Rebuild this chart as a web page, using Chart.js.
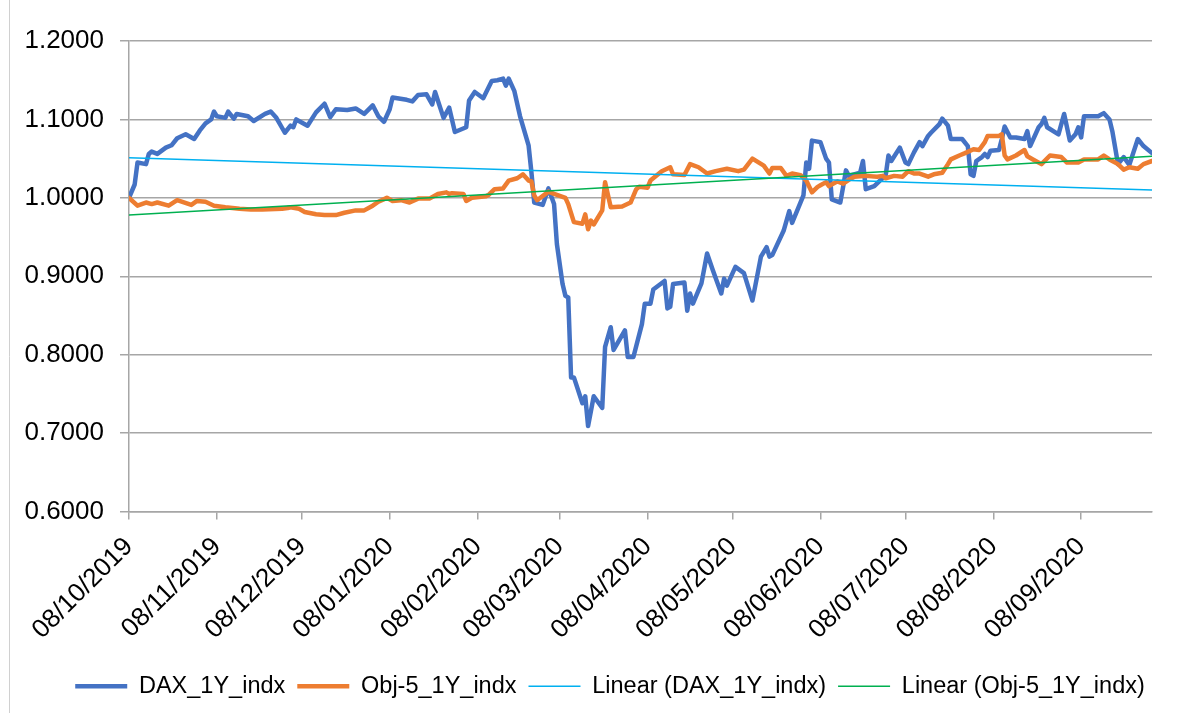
<!DOCTYPE html>
<html>
<head>
<meta charset="utf-8">
<title>DAX_1Y_indx vs Obj-5_1Y_indx</title>
<script src="https://cdn.jsdelivr.net/npm/chart.js@4.4.1/dist/chart.umd.min.js"></script>
<style>
  html, body { margin: 0; padding: 0; background: #fff; }
  #wrap { width: 1189px; height: 713px; }
</style>
</head>
<body>
<div id="wrap"><canvas id="chart" width="1189" height="713"></canvas></div>
<script>
// x values are days counted from the first date of the series
const startDate = '08/10/2019';
const tickLabels = ['08/10/2019', '08/11/2019', '08/12/2019', '08/01/2020', '08/02/2020', '08/03/2020',
  '08/04/2020', '08/05/2020', '08/06/2020', '08/07/2020', '08/08/2020', '08/09/2020'];

const daxDays = [0, 2, 3, 6, 7, 8, 10, 13, 15, 17, 20, 23, 25, 27, 29, 30, 31, 34, 35, 37, 38, 42, 44, 48, 50, 52, 55, 57, 58, 59,
  63, 66, 69, 71, 73, 77, 80, 83, 86, 88, 90, 92, 93, 98, 100, 102, 105, 107, 108, 111, 113, 115, 119, 120, 122, 125, 128, 130, 132, 133,
  134, 136, 138, 141, 142, 143, 146, 148, 150, 151, 153, 154, 155, 156, 157, 160, 161, 162, 164, 167, 168, 170, 171, 175, 176, 178, 181, 182, 184, 185,
  189, 190, 191, 192, 196, 197, 198, 199, 202, 204, 206, 209, 210, 211, 214, 217, 220, 223, 225, 226, 227, 231, 233, 234, 238, 239, 240, 241, 244, 246,
  247, 248, 251, 252, 253, 254, 258, 259, 260, 263, 265, 267, 268, 269, 272, 274, 275, 277, 279, 280, 282, 283, 286, 287, 289, 290, 294, 296, 297, 298,
  299, 301, 302, 303, 304, 307, 308, 309, 311, 313, 316, 317, 318, 321, 322, 323, 324, 328, 330, 332, 334, 335, 336, 337, 342, 344, 346, 347, 349, 351,
  353, 356, 358, 361];
const daxValues = [1.000, 1.017, 1.045, 1.043, 1.056, 1.059, 1.056, 1.064, 1.067, 1.076, 1.081, 1.075, 1.086, 1.095, 1.100, 1.110, 1.104, 1.102, 1.110, 1.101, 1.107, 1.104, 1.098, 1.107, 1.110, 1.102, 1.083, 1.092, 1.090, 1.100,
  1.092, 1.109, 1.120, 1.103, 1.113, 1.112, 1.114, 1.107, 1.118, 1.104, 1.097, 1.113, 1.128, 1.125, 1.123, 1.131, 1.132, 1.119, 1.135, 1.102, 1.115, 1.084, 1.090, 1.124, 1.135, 1.127, 1.149, 1.150, 1.152, 1.143,
  1.152, 1.136, 1.104, 1.067, 1.033, 0.994, 0.991, 1.012, 0.992, 0.941, 0.890, 0.875, 0.873, 0.771, 0.771, 0.738, 0.747, 0.709, 0.747, 0.732, 0.810, 0.835, 0.806, 0.831, 0.797, 0.797, 0.839, 0.865, 0.865, 0.883,
  0.894, 0.859, 0.861, 0.890, 0.892, 0.856, 0.878, 0.865, 0.891, 0.929, 0.908, 0.878, 0.897, 0.888, 0.912, 0.904, 0.869, 0.925, 0.937, 0.925, 0.927, 0.958, 0.983, 0.968, 1.003, 1.045, 1.037, 1.073, 1.071, 1.050,
  1.045, 0.998, 0.994, 1.014, 1.035, 1.028, 1.032, 1.047, 1.011, 1.015, 1.022, 1.028, 1.054, 1.047, 1.064, 1.045, 1.043, 1.058, 1.071, 1.066, 1.079, 1.083, 1.094, 1.101, 1.092, 1.075, 1.075, 1.066, 1.030, 1.028,
  1.047, 1.052, 1.056, 1.052, 1.060, 1.061, 1.075, 1.091, 1.077, 1.077, 1.075, 1.085, 1.066, 1.090, 1.094, 1.102, 1.090, 1.081, 1.107, 1.073, 1.081, 1.090, 1.077, 1.104, 1.104, 1.108, 1.100, 1.085, 1.043, 1.052,
  1.042, 1.075, 1.066, 1.057];

const objDays = [0, 3, 6, 8, 10, 14, 17, 22, 24, 27, 30, 34, 39, 43, 47, 54, 56, 57, 60, 62, 66, 69, 73, 76, 80, 83, 86, 88, 91, 93,
  96, 99, 102, 106, 109, 112, 113, 114, 118, 119, 121, 126, 127, 129, 132, 134, 137, 139, 141, 142, 143, 144, 147, 148, 150, 154, 155, 157, 160, 161,
  162, 163, 164, 167, 168, 170, 174, 177, 179, 180, 183, 184, 188, 191, 192, 196, 198, 201, 204, 207, 211, 215, 217, 220, 224, 226, 227, 230, 232, 234,
  237, 239, 241, 243, 244, 246, 247, 250, 252, 254, 256, 260, 264, 266, 267, 270, 273, 275, 277, 279, 282, 284, 287, 289, 290, 293, 295, 298, 300, 302,
  303, 307, 308, 309, 310, 313, 316, 317, 319, 322, 325, 329, 331, 335, 337, 342, 344, 346, 349, 351, 353, 356, 358, 361];
const objValues = [1.000, 0.990, 0.994, 0.992, 0.994, 0.990, 0.997, 0.991, 0.996, 0.995, 0.990, 0.988, 0.986, 0.985, 0.985, 0.986, 0.987, 0.988, 0.986, 0.982, 0.979, 0.978, 0.978, 0.981, 0.984, 0.984, 0.990, 0.995, 1.000, 0.996,
  0.997, 0.994, 0.999, 0.999, 1.005, 1.007, 1.005, 1.006, 1.005, 0.996, 1.000, 1.002, 1.004, 1.011, 1.012, 1.022, 1.025, 1.030, 1.022, 1.021, 1.003, 0.997, 1.005, 1.008, 1.005, 1.000, 0.992, 0.969, 0.967, 0.979,
  0.960, 0.971, 0.966, 0.984, 1.020, 0.988, 0.989, 0.994, 1.011, 1.014, 1.013, 1.022, 1.034, 1.039, 1.030, 1.029, 1.043, 1.039, 1.031, 1.034, 1.037, 1.034, 1.036, 1.050, 1.041, 1.031, 1.038, 1.038, 1.028, 1.031,
  1.029, 1.022, 1.007, 1.014, 1.016, 1.020, 1.015, 1.021, 1.018, 1.023, 1.027, 1.028, 1.027, 1.028, 1.025, 1.028, 1.027, 1.034, 1.031, 1.031, 1.027, 1.030, 1.032, 1.043, 1.049, 1.054, 1.057, 1.062, 1.061, 1.071,
  1.079, 1.079, 1.081, 1.054, 1.049, 1.054, 1.061, 1.053, 1.049, 1.043, 1.054, 1.052, 1.045, 1.045, 1.049, 1.049, 1.054, 1.049, 1.043, 1.036, 1.039, 1.037, 1.043, 1.047];

// linear trend lines, first and last day
const trendDays = [0, 361];
const daxTrend = [1.051, 1.010];
const objTrend = [0.978, 1.053];

const fontFamily = "'Liberation Sans', Arial, sans-serif";
const gridColor = '#a6a6a6';

function dayOffset(label) {
  const [d, m, y] = label.split('/').map(Number);
  const [d0, m0, y0] = startDate.split('/').map(Number);
  return Math.round((Date.UTC(y, m - 1, d) - Date.UTC(y0, m0 - 1, d0)) / 86400000);
}
const tickDays = tickLabels.map(dayOffset);

function points(xs, ys) {
  return xs.map((x, i) => ({ x: x, y: ys[i] }));
}

// outer chart border on the left edge, and legend nudged right like in Excel
const frame = {
  id: 'frame',
  afterLayout(chart) {
    chart.legend.left += 34;
    chart.legend.right += 34;
  },
  afterDraw(chart) {
    const ctx = chart.ctx;
    ctx.save();
    ctx.strokeStyle = '#d0d0d0';
    ctx.lineWidth = 1;
    ctx.beginPath();
    ctx.moveTo(9.5, 0);
    ctx.lineTo(9.5, chart.height);
    ctx.stroke();
    ctx.restore();
  }
};

new Chart(document.getElementById('chart'), {
  type: 'line',
  data: {
    datasets: [
      { label: 'DAX_1Y_indx', data: points(daxDays, daxValues), borderColor: '#4472C4', borderWidth: 4.5, order: 3 },
      { label: 'Obj-5_1Y_indx', data: points(objDays, objValues), borderColor: '#ED7D31', borderWidth: 4.5, order: 2 },
      { label: 'Linear (DAX_1Y_indx)', data: points(trendDays, daxTrend), borderColor: '#00B0F0', borderWidth: 1.5, order: 1 },
      { label: 'Linear (Obj-5_1Y_indx)', data: points(trendDays, objTrend), borderColor: '#00B050', borderWidth: 1.5, order: 0 }
    ]
  },
  options: {
    responsive: false,
    animation: false,
    layout: { padding: { top: 41, right: 37, bottom: 5, left: 0 } },
    elements: {
      point: { radius: 0, pointStyle: 'line' },
      line: { tension: 0, borderJoinStyle: 'round', borderCapStyle: 'round', fill: false }
    },
    scales: {
      x: {
        type: 'linear',
        min: 0,
        max: daxDays[daxDays.length - 1],
        afterBuildTicks: (scale) => { scale.ticks = tickDays.map((v) => ({ value: v })); },
        afterFit: (scale) => { scale.height = 151; },
        ticks: {
          autoSkip: false,
          minRotation: 45,
          maxRotation: 45,
          padding: 12,
          color: '#000',
          font: { family: fontFamily, size: 26 },
          callback: (value, index) => tickLabels[index]
        },
        grid: { drawOnChartArea: false, drawTicks: true, tickLength: 8, color: gridColor, lineWidth: 1.5 },
        border: { display: true, color: gridColor, width: 1.5 }
      },
      y: {
        min: 0.6,
        max: 1.2,
        afterFit: (scale) => { scale.width = 129; },
        ticks: {
          stepSize: 0.1,
          padding: 16,
          color: '#000',
          font: { family: fontFamily, size: 26 },
          callback: (value) => value.toFixed(4)
        },
        grid: { color: gridColor, lineWidth: 1.5, tickLength: 9, drawTicks: true },
        border: { display: true, color: gridColor, width: 1.5 }
      }
    },
    plugins: {
      tooltip: { enabled: false },
      legend: {
        position: 'bottom',
        labels: {
          usePointStyle: true,
          pointStyleWidth: 52,
          padding: 12,
          color: '#000',
          font: { family: fontFamily, size: 23.5 },
          sort: (a, b) => a.datasetIndex - b.datasetIndex
        }
      }
    }
  },
  plugins: [frame]
});
</script>
</body>
</html>
